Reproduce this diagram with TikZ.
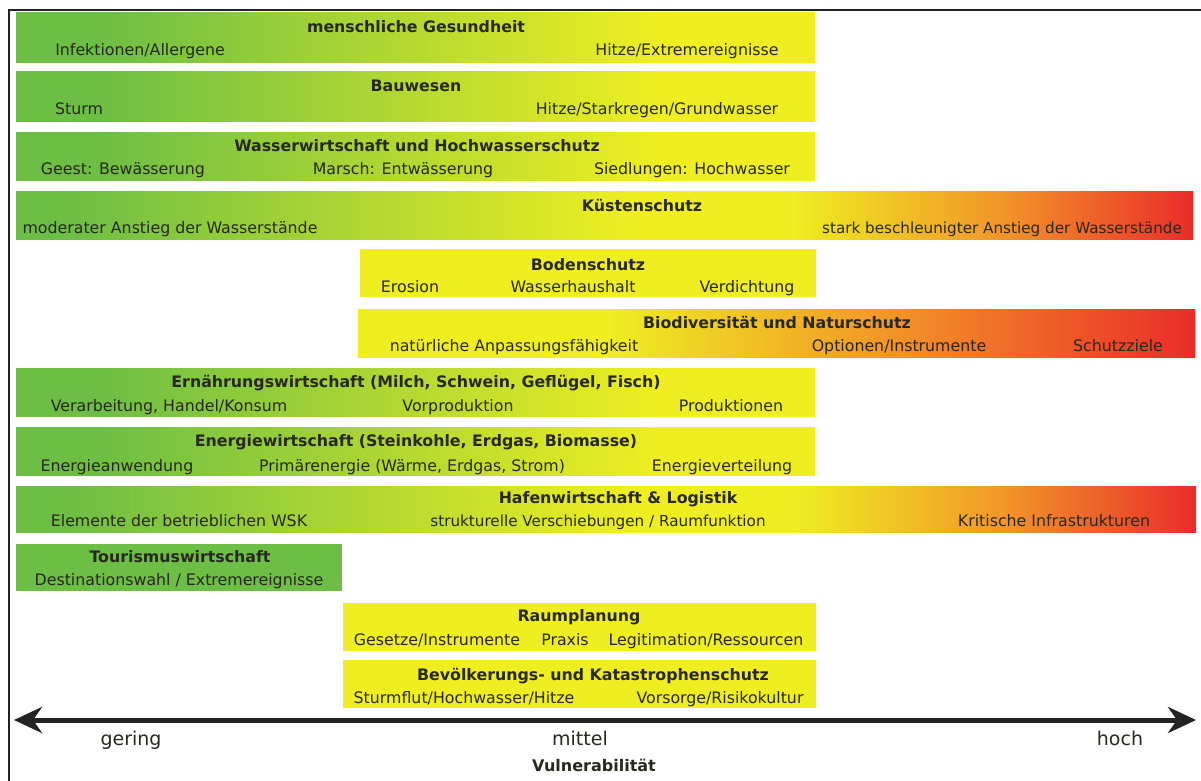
\documentclass[tikz,border=0pt]{standalone}
\usepackage{fontspec}
\setmainfont{DejaVu Sans}
\usetikzlibrary{arrows.meta}
\definecolor{cg}{RGB}{108,190,69}
\definecolor{cy}{RGB}{238,238,33}
\definecolor{co}{RGB}{242,148,40}
\definecolor{cr}{RGB}{233,44,42}
\definecolor{txt}{RGB}{40,40,30}
\definecolor{frm}{RGB}{35,35,35}
\pgfdeclarehorizontalshading{gy}{100bp}{color(0bp)=(cg); color(30bp)=(cg); color(65bp)=(cy); color(100bp)=(cy)}
\pgfdeclarehorizontalshading{gyr}{100bp}{color(0bp)=(cg); color(27bp)=(cg); color(51bp)=(cy); color(58bp)=(cy); color(67bp)=(co); color(75bp)=(cr); color(100bp)=(cr)}
\pgfdeclarehorizontalshading{yr}{100bp}{color(0bp)=(cy); color(40bp)=(cy); color(57bp)=(co); color(75bp)=(cr); color(100bp)=(cr)}
\begin{document}
\begin{tikzpicture}[x=1pt,y=-1pt,
  box/.style={anchor=north west,inner sep=0pt,outer sep=0pt,draw=none},
  tt/.style={font=\fontsize{15.8}{18}\selectfont\bfseries,text=txt,inner sep=0pt,text height=12pt,text depth=0pt},
  st/.style={font=\fontsize{15.8}{18}\selectfont,text=txt,inner sep=0pt,text height=12pt,text depth=0pt},
  axis/.style={line width=5pt,draw=frm,{Stealth[length=28pt,width=26pt,inset=9pt]}-{Stealth[length=28pt,width=26pt,inset=9pt]}}]
\useasboundingbox (0,0) rectangle (1201,781);
\fill[white] (0,0) rectangle (1201,781);
% frame
\draw[frm,line width=2pt] (8.5,781) -- (8.5,10.5) -- (1201,10.5);
% boxes
\node[box,shading=gy,minimum width=799pt,minimum height=50pt] (b1) at (16,13) {};
\node[box,shading=gy,minimum width=799pt,minimum height=50pt] (b2) at (16,72) {};
\node[box,shading=gy,minimum width=799pt,minimum height=48pt] (b3) at (16,132) {};
\node[box,shading=gyr,minimum width=1177pt,minimum height=48pt] (b4) at (16,191) {};
\node[box,fill=cy,minimum width=456pt,minimum height=48pt] (b5) at (360,249) {};
\node[box,shading=yr,minimum width=837pt,minimum height=48pt] (b6) at (358,309) {};
\node[box,shading=gy,minimum width=799pt,minimum height=48pt] (b7) at (16,368) {};
\node[box,shading=gy,minimum width=799pt,minimum height=48pt] (b8) at (16,427) {};
\node[box,shading=gyr,minimum width=1180pt,minimum height=46pt] (b9) at (16,486) {};
\node[box,fill=cg,minimum width=326pt,minimum height=47pt] (b10) at (16,544) {};
\node[box,fill=cy,minimum width=473pt,minimum height=48pt] (b11) at (343,603) {};
\node[box,fill=cy,minimum width=473pt,minimum height=48pt] (b12) at (343,660) {};
% texts
\node[tt] (t1) at (416,27) {menschliche Gesundheit};
\node[st] (s1a) at (140,50) {Infektionen/Allergene};
\node[st] (s1b) at (687,50) {Hitze/Extremereignisse};
\node[tt] (t2) at (416,86) {Bauwesen};
\node[st] (s2a) at (79,109) {Sturm};
\node[st] (s2b) at (657,109) {Hitze/Starkregen/Grundwasser};
\node[tt] (t3) at (417,145) {Wasserwirtschaft und Hochwasserschutz};
\node[st] (s3a) at (123,168) {Geest: Bewässerung};
\node[st] (s3b) at (403,168) {Marsch: Entwässerung};
\node[st] (s3c) at (692,168) {Siedlungen: Hochwasser};
\node[tt] (t4) at (642,205) {Küstenschutz};
\node[st] (s4a) at (170,227) {moderater Anstieg der Wasserstände};
\node[st,font=\fontsize{15.2}{18}\selectfont] (s4b) at (1002,227) {stark beschleunigter Anstieg der Wasserstände};
\node[tt] (t5) at (588,264) {Bodenschutz};
\node[st] (s5a) at (410,286) {Erosion};
\node[st] (s5b) at (573,286) {Wasserhaushalt};
\node[st] (s5c) at (747,286) {Verdichtung};
\node[tt] (t6) at (777,322) {Biodiversität und Naturschutz};
\node[st] (s6a) at (514,345) {natürliche Anpassungsfähigkeit};
\node[st] (s6b) at (899,345) {Optionen/Instrumente};
\node[st] (s6c) at (1118,345) {Schutzziele};
\node[tt] (t7) at (416,381) {Ernährungswirtschaft (Milch, Schwein, Geflügel, Fisch)};
\node[st] (s7a) at (169,405) {Verarbeitung, Handel/Konsum};
\node[st] (s7b) at (458,405) {Vorproduktion};
\node[st] (s7c) at (731,405) {Produktionen};
\node[tt] (t8) at (416,440) {Energiewirtschaft (Steinkohle, Erdgas, Biomasse)};
\node[st] (s8a) at (117,465) {Energieanwendung};
\node[st] (s8b) at (412,465) {Primärenergie (Wärme, Erdgas, Strom)};
\node[st] (s8c) at (722,465) {Energieverteilung};
\node[tt] (t9) at (618,497) {Hafenwirtschaft \& Logistik};
\node[st] (s9a) at (179,520) {Elemente der betrieblichen WSK};
\node[st,font=\fontsize{15.2}{18}\selectfont] (s9b) at (598,520) {strukturelle Verschiebungen / Raumfunktion};
\node[st] (s9c) at (1054,520) {Kritische Infrastrukturen};
\node[tt] (t10) at (180,556) {Tourismuswirtschaft};
\node[st] (s10a) at (179,579) {Destinationswahl / Extremereignisse};
\node[tt] (t11) at (579,615) {Raumplanung};
\node[st] (s11a) at (437,639) {Gesetze/Instrumente};
\node[st] (s11b) at (565,639) {Praxis};
\node[st] (s11c) at (706,639) {Legitimation/Ressourcen};
\node[tt] (t12) at (593,674) {Bevölkerungs- und Katastrophenschutz};
\node[st] (s12a) at (464,697) {Sturmflut/Hochwasser/Hitze};
\node[st] (s12b) at (720,697) {Vorsorge/Risikokultur};
% axis
\coordinate (al) at (14,720);
\coordinate (ar) at (1196,720);
\draw[axis] (al) -- (ar);
\node[st,font=\fontsize{19}{22}\selectfont,text height=14pt] (lg) at (131,738) {gering};
\node[st,font=\fontsize{19}{22}\selectfont,text height=14pt] (lm) at (580,738) {mittel};
\node[st,font=\fontsize{19}{22}\selectfont,text height=14pt] (lh) at (1120,738) {hoch};
\node[tt,font=\fontsize{16}{20}\selectfont\bfseries,text height=12pt] (lv) at (594,765) {Vulnerabilität};
\end{tikzpicture}
\end{document}
